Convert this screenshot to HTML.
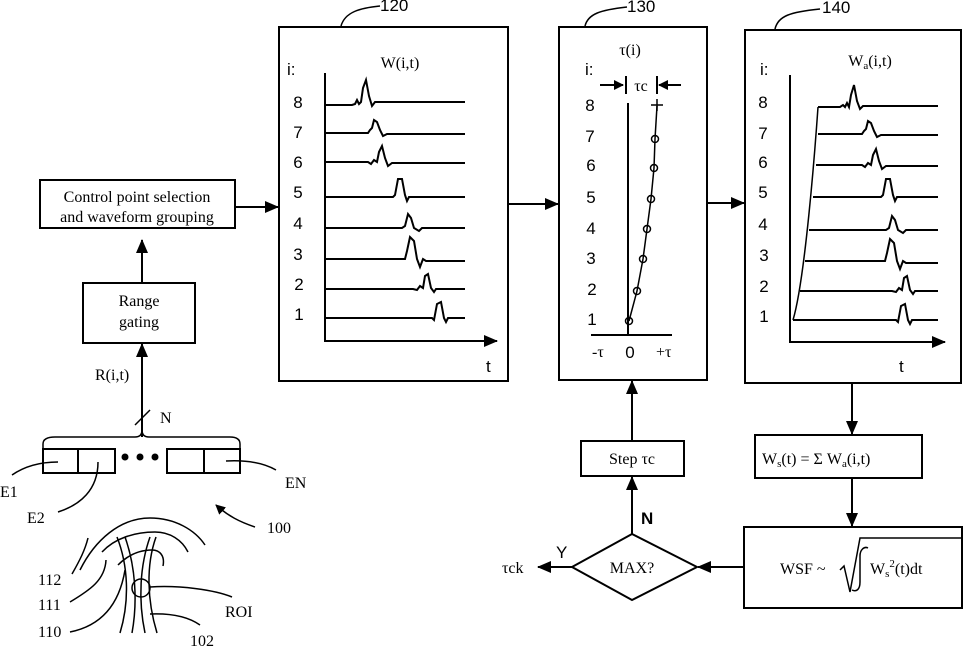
<!DOCTYPE html>
<html><head><meta charset="utf-8"><style>
html,body{margin:0;padding:0;background:#fff;}
svg{display:block;}
text{font-family:"Liberation Serif",serif;font-size:16px;fill:#000;}
.s{font-family:"Liberation Sans",sans-serif;font-size:17px;}
</style></head><body>
<svg width="965" height="647" viewBox="0 0 965 647" xmlns="http://www.w3.org/2000/svg">
<defs><marker id="a" markerWidth="10" markerHeight="10" refX="9" refY="5" orient="auto" markerUnits="userSpaceOnUse"><path d="M0,0 L10,5 L0,10 z" fill="#000"/></marker>
<marker id="b" markerWidth="14" markerHeight="12" refX="13" refY="6" orient="auto" markerUnits="userSpaceOnUse"><path d="M0,0 L14,6 L0,12 z" fill="#000"/></marker></defs>
<g fill="none" stroke="#000" stroke-width="2">
<rect x="279" y="27" width="229" height="354"/>
<rect x="559" y="27" width="148" height="353"/>
<rect x="745" y="30" width="216" height="353"/>
<rect x="40" y="180" width="195" height="48"/>
<rect x="83" y="283" width="112" height="60"/>
<rect x="755" y="435" width="167" height="43"/>
<rect x="744" y="527" width="218" height="81"/>
<rect x="581" y="441" width="103" height="35"/>
<path d="M572,567 L632,534 L697,567 L632,600 Z"/>
<path d="M341,26 C345,12 360,8 380,6" stroke-width="1.5"/>
<path d="M585,26 C588,14 600,10 627,7" stroke-width="1.5"/>
<path d="M775,29 C778,16 790,12 820,9" stroke-width="1.5"/>
<path d="M235,207 H278" marker-end="url(#b)"/>
<path d="M142,283 V240" marker-end="url(#b)"/>
<path d="M142,437 V344" marker-end="url(#b)"/>
<path d="M509,204 H558" marker-end="url(#b)"/>
<path d="M707,203 H744" marker-end="url(#b)"/>
<path d="M852,383 V434" marker-end="url(#b)"/>
<path d="M852,478 V526" marker-end="url(#b)"/>
<path d="M744,567 H698" marker-end="url(#b)"/>
<path d="M572,567 H538" marker-end="url(#b)"/>
<path d="M632,534 V477" marker-end="url(#b)"/>
<path d="M632,441 V381" marker-end="url(#b)"/>
<path d="M135,425 L150,410" stroke-width="1.5"/>
<path d="M43,448 V444 Q43,437 55,437 H135 Q142,437 142,430 Q142,437 149,437 H230 Q240,437 240,444 V448" stroke-width="1.5"/>
<rect x="43" y="449" width="72" height="24"/><line x1="78" y1="449" x2="78" y2="473"/>
<rect x="167" y="449" width="73" height="24"/><line x1="204" y1="449" x2="204" y2="473"/>
<path d="M12,475 C25,466 40,462 58,462" stroke-width="1.5"/>
<path d="M98,462 C98,490 80,505 58,512" stroke-width="1.5"/>
<path d="M226,461 C245,460 262,462 276,470" stroke-width="1.5"/>
<path d="M255,527 C240,522 228,516 216,505" stroke-width="1.5" marker-end="url(#a)"/>
<g stroke-width="1.5">
<path d="M80,570 C95,540 120,518 150,518 C175,518 195,530 205,545"/>
<path d="M102,552 C115,538 135,532 155,532 C170,532 182,540 188,552"/>
<path d="M118,565 C128,555 140,550 152,550 C160,550 165,556 163,566"/>
<path d="M72,574 C80,560 85,550 88,538"/>
<path d="M70,602 C90,590 105,580 106,560"/>
<path d="M70,632 C105,625 120,600 125,570"/>
<path d="M117,537 C128,565 130,600 120,633"/>
<path d="M125,537 C135,565 138,600 132,633"/>
<path d="M150,537 C140,565 138,600 145,633"/>
<path d="M156,537 C146,565 147,600 157,633"/>
<circle cx="141" cy="588" r="9"/>
<path d="M150,587 C180,585 215,590 232,597"/>
<path d="M150,614 C175,613 190,618 200,625"/>
</g>
<path d="M325,73 V341 H497" marker-end="url(#b)"/>
<g stroke-width="2">
<path d="M325,105 H352 l3,-1 l2,-4 l2,4 l2,-2 l2,-14 l3,-8 l3,16 l3,10 l3,-4 H465"/>
<path d="M325,133 H368 l2,-3 l2,-2 l2,-8 l3,2 l3,8 l3,6 l4,-2 H465"/>
<path d="M325,162 H368 l3,2 l3,-4 l3,2 l2,-10 l3,-6 l3,12 l3,8 l4,-3 H465"/>
<path d="M325,197 H393 l2,-2 l3,-16 l4,0 l3,16 l2,6 l2,-4 H465"/>
<path d="M325,228 H402 l3,-2 l3,-12 l3,4 l3,10 l5,3 l3,-3 H465"/>
<path d="M325,259 H405 l2,-8 l3,-14 l4,4 l3,18 l3,8 l3,-8 l3,2 H465"/>
<path d="M325,289 H413 l4,1 l3,-4 l3,2 l2,-12 l3,-2 l3,14 l3,4 l2,-3 H465"/>
<path d="M325,318 H432 l2,2 l3,-16 l4,-2 l3,16 l2,4 l2,-4 H465"/>
</g>
<path d="M628,103 V335 M591,335 H672" />
<path d="M629,321 L637,291 L643,259 L647,229 L651,199 L654,168 L655,139 L657,106" stroke-width="1.5"/>
<g stroke-width="1.5">
<circle cx="629" cy="321" r="3.5"/><circle cx="637" cy="291" r="3.5"/><circle cx="643" cy="259" r="3.5"/><circle cx="647" cy="229" r="3.5"/><circle cx="651" cy="199" r="3.5"/><circle cx="654" cy="168" r="3.5"/><circle cx="655" cy="139" r="3.5"/>
<path d="M651,105 H663 M657,99 V111"/>
</g>
<path d="M600,85 H623" marker-end="url(#a)"/>
<path d="M681,85 H659" marker-end="url(#a)"/>
<path d="M626,76 V94 M657,76 V94"/>
<path d="M790,75 V342 H945" marker-end="url(#b)"/>
<path d="M793,320 C805,280 815,150 818,107" stroke-width="1.5"/>
<g>
<path d="M818,107 H840 l3,-2 l2,2 l2,-4 l2,4 l2,-12 l3,-10 l3,16 l3,8 l3,-3 H938"/>
<path d="M818,134 H862 l2,-3 l2,-2 l2,-8 l3,2 l3,8 l3,6 l4,-2 H938"/>
<path d="M816,165 H862 l3,2 l3,-4 l3,2 l2,-10 l3,-6 l3,12 l3,8 l4,-3 H938"/>
<path d="M813,197 H881 l2,-2 l3,-16 l4,0 l3,16 l2,6 l2,-4 H938"/>
<path d="M809,230 H886 l3,-2 l3,-12 l3,4 l3,10 l5,3 l3,-3 H938"/>
<path d="M805,261 H885 l2,-8 l3,-14 l4,4 l3,18 l3,8 l3,-8 l3,2 H938"/>
<path d="M800,291 H892 l4,1 l3,-4 l3,2 l2,-12 l3,-2 l3,14 l3,4 l2,-3 H938"/>
<path d="M793,320 H896 l2,2 l3,-16 l4,-2 l3,16 l2,4 l2,-4 H938"/>
</g>
<path d="M840,570 l4,-4 l6,26 l10,-54 H962" stroke-width="1.5"/>
<path d="M868,548 C864,546 860,550 860,556 V582 C860,590 856,592 852,590" stroke-width="1.5"/>
</g>
<g fill="#000" stroke="none"><circle cx="125" cy="457" r="3.5"/><circle cx="140" cy="457" r="3.5"/><circle cx="155" cy="457" r="3.5"/></g>
<text x="380" y="11" class="s" font-size="16">120</text>
<text x="627" y="12" class="s" font-size="16">130</text>
<text x="822" y="13" class="s" font-size="16">140</text>
<text x="137" y="202" text-anchor="middle">Control point selection</text>
<text x="137" y="222" text-anchor="middle">and waveform grouping</text>
<text x="139" y="306" text-anchor="middle">Range</text>
<text x="139" y="327" text-anchor="middle">gating</text>
<text x="95" y="380">R(i,t)</text>
<text x="160" y="423">N</text>
<text x="0" y="497">E1</text>
<text x="27" y="523">E2</text>
<text x="285" y="488">EN</text>
<text x="267" y="533">100</text>
<text x="38" y="585">112</text>
<text x="38" y="610">111</text>
<text x="38" y="637">110</text>
<text x="225" y="617">ROI</text>
<text x="190" y="646">102</text>
<text x="400" y="68" text-anchor="middle">W(i,t)</text>
<text x="287" y="75" class="s">i:</text>
<text x="298" y="108" class="s" text-anchor="middle">8</text>
<text x="298" y="138" class="s" text-anchor="middle">7</text>
<text x="298" y="168" class="s" text-anchor="middle">6</text>
<text x="298" y="198" class="s" text-anchor="middle">5</text>
<text x="298" y="229" class="s" text-anchor="middle">4</text>
<text x="298" y="260" class="s" text-anchor="middle">3</text>
<text x="299" y="290" class="s" text-anchor="middle">2</text>
<text x="299" y="320" class="s" text-anchor="middle">1</text>
<text x="486" y="372" class="s">t</text>
<text x="585" y="75" class="s">i:</text>
<text x="590" y="111" class="s" text-anchor="middle">8</text>
<text x="590" y="142" class="s" text-anchor="middle">7</text>
<text x="591" y="171" class="s" text-anchor="middle">6</text>
<text x="591" y="203" class="s" text-anchor="middle">5</text>
<text x="591" y="234" class="s" text-anchor="middle">4</text>
<text x="591" y="264" class="s" text-anchor="middle">3</text>
<text x="592" y="295" class="s" text-anchor="middle">2</text>
<text x="592" y="325" class="s" text-anchor="middle">1</text>
<text x="630" y="358" class="s" text-anchor="middle">0</text>
<text x="760" y="75" class="s">i:</text>
<text x="763" y="108" class="s" text-anchor="middle">8</text>
<text x="763" y="139" class="s" text-anchor="middle">7</text>
<text x="763" y="168" class="s" text-anchor="middle">6</text>
<text x="763" y="198" class="s" text-anchor="middle">5</text>
<text x="763" y="230" class="s" text-anchor="middle">4</text>
<text x="764" y="261" class="s" text-anchor="middle">3</text>
<text x="764" y="292" class="s" text-anchor="middle">2</text>
<text x="764" y="322" class="s" text-anchor="middle">1</text>
<text x="899" y="372" class="s">t</text>
<text x="641" y="524" class="s" font-weight="bold">N</text>
<text x="556" y="558" class="s">Y</text>
<text x="630" y="55" text-anchor="middle">τ(i)</text>
<text x="641" y="91" text-anchor="middle">τc</text>
<text x="592" y="357" font-size="14">-τ</text>
<text x="656" y="357" font-size="14">+τ</text>
<text x="870" y="66" text-anchor="middle">W<tspan font-size="11" dy="3">a</tspan><tspan dy="-3">(i,t)</tspan></text>
<text x="632" y="464" text-anchor="middle">Step τc</text>
<text x="632" y="573" text-anchor="middle">MAX?</text>
<text x="502" y="573">τck</text>
<text x="762" y="464">W<tspan font-size="11" dy="3">s</tspan><tspan dy="-3">(t) = Σ W</tspan><tspan font-size="11" dy="3">a</tspan><tspan dy="-3">(i,t)</tspan></text>
<text x="780" y="574">WSF ~</text>
<text x="870" y="574">W<tspan font-size="11" dy="3">s</tspan><tspan font-size="11" dy="-10">2</tspan><tspan dy="7">(t)dt</tspan></text>
</svg>
</body></html>
